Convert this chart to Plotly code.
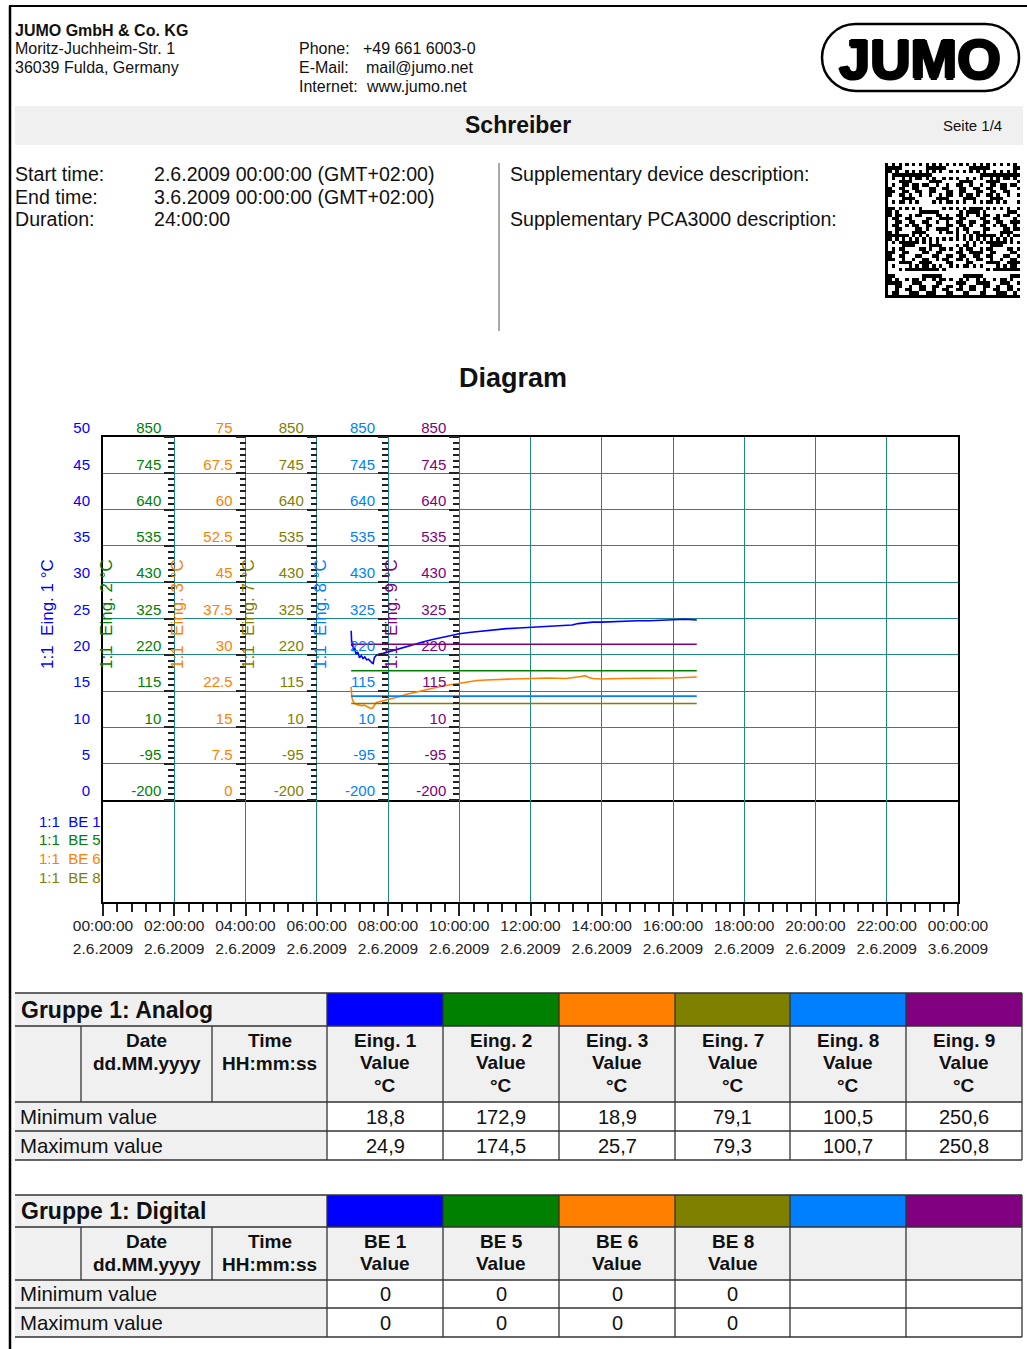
import plotly.graph_objects as go

W, H = 1027, 1349
FONT = "Liberation Sans, Arial, Helvetica, sans-serif"


def X(px):
    return px / W


def Y(py):
    return 1 - py / H


# ---------------- data ----------------
DAY = "2009-06-02"
START = "2009-06-02 00:00:00"
END = "2009-06-03 00:00:00"

blue_times = ["06:58", "06:59", "07:00", "07:02", "07:04", "07:06", "07:09", "07:12", "07:15", "07:18",
              "07:21", "07:24", "07:27", "07:30", "07:33", "07:35", "07:37", "07:40", "07:45", "07:52",
              "08:00", "08:10", "08:20", "08:30", "08:40", "08:50", "09:00", "09:15", "09:30", "09:45",
              "10:00", "10:20", "10:40", "11:00", "11:20", "11:40", "12:00", "12:20", "12:40", "13:00",
              "13:10", "13:20", "13:30", "13:45", "14:00", "14:20", "14:40", "15:00", "15:20", "15:40",
              "16:00", "16:20", "16:40"]
blue_vals = [23.3, 21.2, 21.9, 20.5, 21.0, 20.1, 20.4, 19.6, 19.9, 19.5,
             19.7, 19.3, 19.4, 19.1, 18.9, 18.8, 19.6, 19.9, 20.1, 20.2,
             20.4, 20.6, 20.9, 21.1, 21.4, 21.6, 21.8, 22.1, 22.4, 22.7,
             22.9, 23.1, 23.3, 23.5, 23.6, 23.7, 23.8, 23.9, 24.0, 24.1,
             24.1, 24.3, 24.4, 24.5, 24.5, 24.6, 24.7, 24.7, 24.7, 24.8,
             24.8, 24.9, 24.8]

orange_times = ["06:58", "06:59", "07:01", "07:04", "07:08", "07:12", "07:16", "07:20", "07:24", "07:28",
                "07:31", "07:34", "07:37", "07:40", "07:45", "07:52", "08:00", "08:10", "08:20", "08:30",
                "08:40", "08:50", "09:00", "09:15", "09:30", "09:45", "10:00", "10:15", "10:30", "10:45",
                "11:00", "11:30", "12:00", "12:30", "13:00", "13:15", "13:25", "13:32", "13:38", "13:45",
                "14:00", "14:30", "15:00", "15:30", "16:00", "16:20", "16:40"]
orange_vals = [23.4, 21.3, 20.4, 19.9, 19.7, 19.6, 19.5, 19.6, 19.4, 19.1,
               18.9, 19.0, 19.6, 20.1, 20.3, 20.5, 20.8, 21.1, 21.4, 21.8,
               22.1, 22.4, 22.7, 23.1, 23.5, 23.8, 24.1, 24.4, 24.7, 24.8,
               24.9, 25.0, 25.1, 25.2, 25.1, 25.3, 25.5, 25.7, 25.3, 25.1,
               25.0, 25.1, 25.1, 25.2, 25.2, 25.3, 25.4]

green_times = ["06:58", "09:00", "12:20", "12:35", "12:50", "13:05", "13:20", "13:35", "13:50", "14:05",
               "14:20", "16:40"]
green_vals = [173.8, 173.9, 173.8, 174.4, 173.9, 174.5, 174.0, 174.4, 173.9, 174.3, 173.8, 173.9]

olive_times = ["06:58", "16:40"]
olive_vals = [79.2, 79.2]
lblue_times = ["06:58", "16:40"]
lblue_vals = [100.6, 100.6]
purple_times = ["06:58", "16:40"]
purple_vals = [250.7, 250.7]

# channel metadata
channel_names = ["Eing. 1", "Eing. 2", "Eing. 3", "Eing. 7", "Eing. 8", "Eing. 9"]
channel_colors = ["#0000FF", "#008000", "#FF8000", "#808000", "#0080FF", "#800080"]
channel_ranges = [[0, 50], [-200, 850], [0, 75], [-200, 850], [-200, 850], [-200, 850]]
channel_dticks = [5, 105, 7.5, 105, 105, 105]
axis_hours = [0, 2, 4, 6, 8, 10]

digital_names = ["BE 1", "BE 5", "BE 6", "BE 8"]
digital_colors = ["#0000FF", "#008000", "#FF8000", "#808000"]

analog_min = ["18,8", "172,9", "18,9", "79,1", "100,5", "250,6"]
analog_max = ["24,9", "174,5", "25,7", "79,3", "100,7", "250,8"]
digital_min = ["0", "0", "0", "0"]
digital_max = ["0", "0", "0", "0"]

GRID = "rgb(30,135,135)"
TICKC = "#222222"


def ts(times):
    return [f"{DAY} {t}:00" for t in times]


def tick_vals(k):
    r0, r1 = channel_ranges[k]
    d = channel_dticks[k]
    n = int(round((r1 - r0) / d))
    vals = [r0 + d * i for i in range(n + 1)]
    return vals, [f"{v:g}" for v in vals]


fig = go.Figure()

series = [(blue_times, blue_vals), (green_times, green_vals), (orange_times, orange_vals),
          (olive_times, olive_vals), (lblue_times, lblue_vals), (purple_times, purple_vals)]
order = [1, 3, 4, 5, 2, 0]
for i in order:
    t, v = series[i]
    fig.add_trace(go.Scatter(x=ts(t), y=v, mode="lines", xaxis="x",
                             yaxis="y" if i == 0 else f"y{i + 1}",
                             line=dict(color=channel_colors[i], width=1.6),
                             name=channel_names[i], showlegend=False, hoverinfo="skip"))

# digital area and date-label axis (empty)
fig.add_trace(go.Scatter(x=[], y=[], xaxis="x2", yaxis="y7", showlegend=False))
fig.add_trace(go.Scatter(x=[], y=[], xaxis="x3", yaxis="y7", showlegend=False))

# data-matrix code decoration
N = 40
code = []
for i in range(N):
    row = []
    for j in range(N):
        if j == 0 or i == N - 1:
            row.append(1)
        elif i == 0:
            row.append(1 if j % 2 == 0 else 0)
        elif j == N - 1:
            row.append(1 if i % 2 == 1 else 0)
        else:
            row.append(1 if ((i * 17 + j * 31 + i * j * 7 + (i // 3) * (j // 2)) % 13) < 6 else 0)
    code.append(row)
fig.add_trace(go.Heatmap(z=code, xaxis="x4", yaxis="y8", showscale=False,
                         colorscale=[[0, "white"], [1, "black"]], hoverinfo="skip"))

XD = [X(103), X(958)]


def pos(h):
    return XD[0] + h / 24 * (XD[1] - XD[0])


layout = dict(
    width=W, height=H, margin=dict(l=0, r=0, t=0, b=0), autosize=False,
    paper_bgcolor="white", plot_bgcolor="white", showlegend=False, hovermode=False,
    font=dict(family=FONT, color=TICKC),
)

layout["xaxis"] = dict(domain=XD, anchor="y", type="date", range=[START, END],
                       dtick=7200000, tick0=START, showgrid=True, gridcolor=GRID, gridwidth=1,
                       showticklabels=False, ticks="", showline=True, mirror=True,
                       linecolor="black", linewidth=2, zeroline=False, automargin=False)
layout["xaxis2"] = dict(domain=XD, anchor="y7", type="date", range=[START, END],
                        dtick=7200000, tick0=START, showgrid=True, gridcolor=GRID, gridwidth=1,
                        ticks="outside", ticklen=12, tickwidth=1.5, tickcolor=TICKC,
                        minor=dict(dtick=1440000, tick0=START, ticks="outside", ticklen=8,
                                   tickwidth=1.5, tickcolor=TICKC, showgrid=False),
                        tickformat="%H:%M:%S", ticklabelstandoff=-4,
                        tickfont=dict(size=15.5, color=TICKC, family=FONT),
                        showline=True, linecolor="black", linewidth=2, zeroline=False,
                        automargin=False)
layout["xaxis3"] = dict(overlaying="x2", anchor="y7", side="bottom", type="date",
                        range=[START, END], dtick=7200000, tick0=START, showgrid=False,
                        ticks="", tickformat="%-d.%-m.%Y", ticklabelstandoff=35,
                        tickfont=dict(size=15.5, color=TICKC, family=FONT), showline=False,
                        zeroline=False, automargin=False)
layout["xaxis4"] = dict(domain=[X(885), X(1020)], anchor="y8", visible=False)
layout["yaxis8"] = dict(domain=[Y(298), Y(163)], anchor="x4", visible=False, autorange="reversed")

tv0, tt0 = tick_vals(0)
layout["yaxis"] = dict(domain=[Y(800), Y(437)], anchor="x", range=channel_ranges[0],
                       tickmode="array", tickvals=tv0, ticktext=tt0,
                       showgrid=True, gridcolor=GRID,
                       gridwidth=1, zeroline=False, showline=True, mirror=True,
                       linecolor="black", linewidth=2, ticks="", ticklabelshift=-9,
                       ticklabelstandoff=8,
                       tickfont=dict(size=15, color=channel_colors[0], family=FONT),
                       automargin=False)
for k in range(1, 6):
    r = channel_ranges[k]
    d = channel_dticks[k]
    tv, tt = tick_vals(k)
    layout[f"yaxis{k + 1}"] = dict(
        overlaying="y", anchor="free", position=pos(axis_hours[k]), side="left",
        range=r, tickmode="array", tickvals=tv, ticktext=tt,
        showgrid=False, zeroline=False, showline=False,
        ticks="outside", ticklen=10, tickwidth=1.5, tickcolor=TICKC,
        minor=dict(dtick=d / 6, tick0=r[0], ticks="outside", ticklen=6, tickwidth=1.5,
                   tickcolor=TICKC, showgrid=False),
        ticklabelshift=-9, tickfont=dict(size=15, color=channel_colors[k], family=FONT),
        automargin=False)
layout["yaxis7"] = dict(domain=[Y(902), Y(800)], anchor="x2", range=[0, 1],
                        showticklabels=False, showgrid=False, zeroline=False, ticks="",
                        showline=True, mirror=True, linecolor="black", linewidth=2,
                        automargin=False)
fig.update_layout(**layout)

shapes = []


def line(x0, y0, x1, y1, color="black", width=1):
    shapes.append(dict(type="line", xref="paper", yref="paper", x0=X(x0), y0=Y(y0),
                       x1=X(x1), y1=Y(y1), line=dict(color=color, width=width)))


def rect(x0, y0, x1, y1, fill):
    shapes.append(dict(type="rect", xref="paper", yref="paper", x0=X(x0), y0=Y(y0),
                       x1=X(x1), y1=Y(y1), fillcolor=fill, line=dict(width=0), layer="below"))


annots = []


def txt(x, y, s, size=15, bold=False, color="#111111", xanchor="left", angle=0):
    annots.append(dict(x=X(x), y=Y(y), xref="paper", yref="paper",
                       text=f"<b>{s}</b>" if bold else s, showarrow=False,
                       xanchor=xanchor, yanchor="middle", textangle=angle,
                       font=dict(family=FONT, size=size, color=color)))


# page border
line(10, 6, 10, 1349, width=2.5)
line(9, 6, 1027, 6, width=2)

# header
txt(13, 30, "JUMO GmbH & Co. KG", 16, bold=True)
txt(13, 49, "Moritz-Juchheim-Str. 1", 16)
txt(13, 67, "36039 Fulda, Germany", 16)
txt(297, 49, "Phone:", 16)
txt(361, 49, "+49 661 6003-0", 16)
txt(297, 67, "E-Mail:", 16)
txt(364, 67, "mail@jumo.net", 16)
txt(297, 86, "Internet:", 16)
txt(364, 86, "www.jumo.net", 16)

# logo
cx0, cx1, cy, rr = 855.5, 985.5, 57.5, 33.5
kk = 0.5523 * rr


def P(x, y):
    return f"{X(x):.6f},{Y(y):.6f}"


path = ("M" + P(cx0, cy - rr) + " L" + P(cx1, cy - rr) +
        " C" + P(cx1 + kk, cy - rr) + " " + P(cx1 + rr, cy - kk) + " " + P(cx1 + rr, cy) +
        " C" + P(cx1 + rr, cy + kk) + " " + P(cx1 + kk, cy + rr) + " " + P(cx1, cy + rr) +
        " L" + P(cx0, cy + rr) +
        " C" + P(cx0 - kk, cy + rr) + " " + P(cx0 - rr, cy + kk) + " " + P(cx0 - rr, cy) +
        " C" + P(cx0 - rr, cy - kk) + " " + P(cx0 - kk, cy - rr) + " " + P(cx0, cy - rr) + " Z")
shapes.append(dict(type="path", xref="paper", yref="paper", path=path,
                   line=dict(color="black", width=2.5)))
annots.append(dict(x=X(920), y=Y(58), xref="paper", yref="paper", text="<b>JUMO</b>",
                   showarrow=False, xanchor="center", yanchor="middle",
                   font=dict(family=FONT, size=56, color="black",
                             shadow="1.5px 0 0 #000, -1.5px 0 0 #000, 0 1.5px 0 #000, 0 -1.5px 0 #000")))

# title band
rect(15, 106, 1023, 145, "#f0f0f0")
txt(518, 125, "Schreiber", 23, bold=True, xanchor="center")
txt(941, 126, "Seite 1/4", 15)

# info block
txt(13, 174, "Start time:", 19.6)
txt(152, 174, "2.6.2009 00:00:00 (GMT+02:00)", 19.6)
txt(13, 197, "End time:", 19.6)
txt(152, 197, "3.6.2009 00:00:00 (GMT+02:00)", 19.6)
txt(13, 219, "Duration:", 19.6)
txt(152, 219, "24:00:00", 19.6)
line(499, 163, 499, 331, color="#555555", width=1)
txt(508, 174, "Supplementary device description:", 19.6)
txt(508, 219, "Supplementary PCA3000 description:", 19.6)

txt(513, 378, "Diagram", 27, bold=True, xanchor="center")

# axis titles
title_px = [47, 106, 177, 248, 320, 391]
for k in range(6):
    txt(title_px[k], 614, f"1:1&nbsp;&nbsp;{channel_names[k]} °C", 17,
        color=channel_colors[k], xanchor="center", angle=-90)

# digital legend
for k in range(4):
    txt(37, 821 + k * 18.7, f"1:1&nbsp;&nbsp;{digital_names[k]}", 15, color=digital_colors[k])

# ---------------- tables ----------------
cols = [15, 81, 212, 327, 443, 559, 675, 790, 906, 1022]
LC = "#333333"


def table(rows, title, names, sub, vmin, vmax, n_lines):
    t0, t1, t2, t3, t4 = rows
    rect(15, t0, 327, t1, "#f0f0f0")
    for k in range(6):
        rect(cols[3 + k], t0, cols[4 + k], t1, channel_colors[k])
    rect(15, t1, 1022, t2, "#f0f0f0")
    rect(15, t2, 327, t4, "#f0f0f0")
    for yv in rows:
        line(15, yv, 1022, yv, color=LC, width=1.3)
    for xv in cols[3:]:
        line(xv, t0, xv, t4, color=LC, width=1.3)
    for xv in cols[1:3]:
        line(xv, t1, xv, t2, color=LC, width=1.3)
    txt(19, (t0 + t1) / 2, title, 23, bold=True)
    l1 = t1 + 14
    txt((cols[1] + cols[2]) / 2, l1, "Date", 19, bold=True, xanchor="center")
    txt((cols[1] + cols[2]) / 2, l1 + 23, "dd.MM.yyyy", 19, bold=True, xanchor="center")
    txt((cols[2] + cols[3]) / 2, l1, "Time", 19, bold=True, xanchor="center")
    txt((cols[2] + cols[3]) / 2, l1 + 23, "HH:mm:ss", 19, bold=True, xanchor="center")
    for k, nm in enumerate(names):
        cxm = (cols[3 + k] + cols[4 + k]) / 2
        lines_ = [nm] + sub
        for j, s in enumerate(lines_[:n_lines]):
            txt(cxm, l1 + 22.5 * j, s, 19, bold=True, xanchor="center")
        txt(cxm, (t2 + t3) / 2, vmin[k], 20, xanchor="center")
        txt(cxm, (t3 + t4) / 2, vmax[k], 20, xanchor="center")
    txt(18, (t2 + t3) / 2, "Minimum value", 20.4)
    txt(18, (t3 + t4) / 2, "Maximum value", 20.4)


table([993, 1026, 1102, 1131, 1160], "Gruppe 1: Analog", channel_names, ["Value", "°C"],
      analog_min, analog_max, 3)
table([1195, 1227, 1280, 1308, 1337], "Gruppe 1: Digital", digital_names, ["Value"],
      digital_min, digital_max, 2)

fig.update_layout(shapes=shapes, annotations=annots)
fig.write_html("out.html", config={"displayModeBar": False},
               post_script="document.body.style.margin='0px';document.body.style.overflow='hidden';")
